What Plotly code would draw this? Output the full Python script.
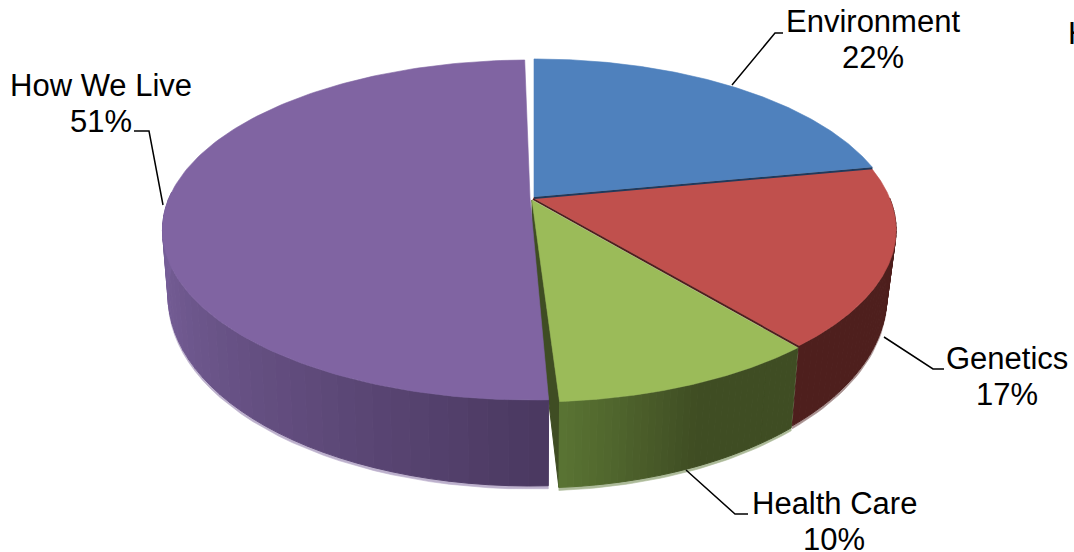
import math
import plotly.graph_objects as go

categories = ["Environment", "Genetics", "Health Care", "How We Live"]
percents = [22, 17, 10, 51]
top_colors = ["#4f81bd", "#c0504d", "#9bbb59", "#8064a2"]
side_left = ["#2c4a70", "#4e1f1d", "#5a7433", "#78609a"]
side_right = ["#2c4a70", "#4e1f1d", "#3f4d23", "#4a3860"]
offsets = [(2, -1), (1, 0), (0, 2), (-2, 0)]
gaps = [(0, 0), (0, 0), (0, 0), (1.2, 1.0)]
x_scales = [0.988, 0.988, 0.988, 1.0]
floor_scales = [0.975, 0.975, 0.975, 0.985]

CX, CY, A, B, K = 532, 198, 361, 164, 0.188


def top(theta, i):
    off = offsets[i]
    u, v = math.sin(math.radians(theta)), math.cos(math.radians(theta))
    w = 1 + K * v
    return CX + off[0] + A * x_scales[i] * u / w, CY + off[1] - B * v / w


def bottom(theta, i, extra=0):
    off = offsets[i]
    x, y = top(theta, i)
    v = math.cos(math.radians(theta))
    return CX + off[0] + (x - CX - off[0]) * floor_scales[i], y + 60 - 26 * v + extra


def hex2rgb(h):
    return [int(h[k:k + 2], 16) for k in (1, 3, 5)]


def mix(a, b, t):
    ca, cb = hex2rgb(a), hex2rgb(b)
    return "rgb(%d,%d,%d)" % tuple(round(p + (q - p) * t) for p, q in zip(ca, cb))


def poly(fig, pts, color, width=1.0):
    xs = [p[0] for p in pts] + [pts[0][0]]
    ys = [p[1] for p in pts] + [pts[0][1]]
    fig.add_trace(go.Scatter(x=xs, y=ys, mode="lines", fill="toself", fillcolor=color,
                             line=dict(color=color, width=width),
                             hoverinfo="skip", showlegend=False))


fig = go.Figure()
starts, cum = [], 0
for p in percents:
    starts.append(cum * 3.6)
    cum += p
ranges = []
for i, p in enumerate(percents):
    ranges.append((starts[i] + gaps[i][0], starts[i] + p * 3.6 - gaps[i][1]))


def draw_side(i):
    a, b = ranges[i]
    a2, b2 = max(a, 90), min(b, 272)
    n = 36
    thetas = [a2 + (b2 - a2) * j / n for j in range(n + 1)]
    fringe = [bottom(t, i) for t in thetas] + [bottom(t, i, 3) for t in reversed(thetas)]
    poly(fig, fringe, mix(side_left[i], "#ffffff", 0.5), 0.6)
    for j in range(n):
        t0, t1 = thetas[j], thetas[j + 1]
        mid = (t0 + t1) / 2
        if i == 3:
            # lighter at the far left, darkest at the front
            c = mix(side_left[i], side_right[i], min(1, (272 - mid) / 94) ** 1.4)
        elif i == 2:
            # lighter at the front corner, dark towards the right
            c = mix(side_left[i], side_right[i], min(1, (b2 - mid) / (b2 - a2) * 1.9))
        else:
            c = side_left[i]
        poly(fig, [top(t0, i), top(t1, i), bottom(t1, i), bottom(t0, i)], c)


# inner wall of the pulled-out Health Care slice
hc = 2
apex = (CX + offsets[hc][0], CY + offsets[hc][1])
poly(fig, [apex, top(ranges[hc][1], hc), bottom(ranges[hc][1], hc),
           (apex[0], apex[1] + 60)], side_right[hc])

for i in (1, 2, 3):
    draw_side(i)

for i in (0, 3, 1, 2):
    a, b = ranges[i]
    off = offsets[i]
    n = 160
    pts = [(CX + off[0], CY + off[1])] + [top(a + (b - a) * j / n, i) for j in range(n + 1)]
    poly(fig, pts, top_colors[i], 0.6)

# dark seams along the radial slice edges
for i, col in ((0, "#1f3a5c"), (1, "#4e1f1d")):
    a, b = ranges[i]
    off = offsets[i]
    p = top(b, i)
    fig.add_trace(go.Scatter(x=[CX + off[0], p[0]], y=[CY + off[1] + 1, p[1] + 1], mode="lines",
                             line=dict(color=col, width=2), hoverinfo="skip", showlegend=False))

leaders = [
    ([732, 775, 783], [85, 33, 33]),
    ([884, 933, 944], [337, 369, 369]),
    ([686, 735, 748], [470, 514, 514]),
    ([163, 149, 134], [205, 131, 131]),
]
for lx, ly in leaders:
    fig.add_trace(go.Scatter(x=lx, y=ly, mode="lines", line=dict(color="#000000", width=1.5),
                             hoverinfo="skip", showlegend=False))

label_pos = [(873, 21), (1007, 358), (834, 503), (101, 85)]
LINE_GAP = 36
FONT = dict(family="Liberation Sans, Arial, sans-serif", size=31, color="#000000")
for name, p, (x, y) in zip(categories, percents, label_pos):
    fig.add_annotation(x=x, y=y, text=name, showarrow=False, font=FONT,
                       xanchor="center", yanchor="middle", xref="x", yref="y")
    fig.add_annotation(x=x, y=y + LINE_GAP, text=f"{p}%", showarrow=False, font=FONT,
                       xanchor="center", yanchor="middle", xref="x", yref="y")
fig.add_annotation(x=1066, y=33, text="H", showarrow=False, font=FONT,
                   xanchor="left", yanchor="middle", xref="x", yref="y")

fig.update_layout(width=1074, height=552, margin=dict(l=0, r=0, t=0, b=0),
                  paper_bgcolor="white", plot_bgcolor="white", showlegend=False,
                  xaxis=dict(range=[0, 1074], visible=False, fixedrange=True),
                  yaxis=dict(range=[552, 0], visible=False, fixedrange=True))
fig.write_html("out.html", config=dict(displayModeBar=False),
               post_script="document.body.style.margin='0';document.documentElement.style.overflow='hidden';")
